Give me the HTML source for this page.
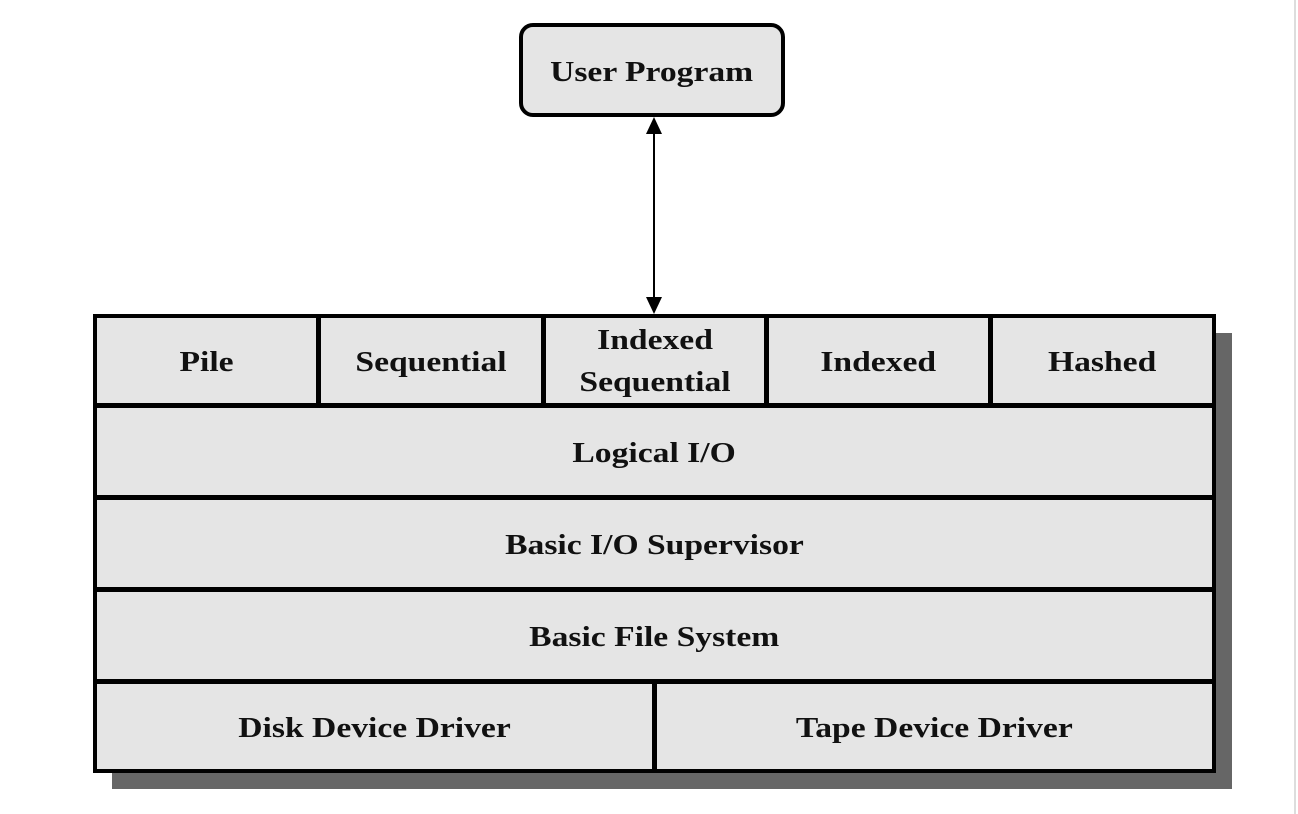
<!DOCTYPE html>
<html><head><style>
body{margin:0;width:1298px;height:814px;background:#fff;position:relative;overflow:hidden;font-family:"Liberation Serif",serif;font-weight:bold;color:#111}
.b{position:absolute;background:#e5e5e5;box-sizing:border-box;display:flex;align-items:center;justify-content:center;text-align:center;font-size:28px;line-height:1.5;padding-top:5px}
.b span{display:inline-block;transform:scaleX(1.2)}
</style></head><body>
<div style="position:absolute;left:1294px;top:0;width:2px;height:814px;background:#ddd"></div>
<div class="b" style="left:519px;top:23px;width:266px;height:94px;border:4px solid #000;border-radius:14px"><span>User Program</span></div>
<svg style="position:absolute;left:0;top:0" width="1298" height="814">
<rect x="112" y="333" width="1120" height="456" fill="#666"/>
<line x1="654" y1="130" x2="654" y2="300" stroke="#000" stroke-width="2"/>
<polygon points="654,117 646,134 662,134" fill="#000"/>
<polygon points="654,314 646,297 662,297" fill="#000"/>
</svg>
<div style="position:absolute;left:93px;top:314px;width:1123px;height:459px;background:#000"></div>
<div class="b" style="left:97px;top:318px;width:219px;height:85px"><span>Pile</span></div>
<div class="b" style="left:321px;top:318px;width:220px;height:85px"><span>Sequential</span></div>
<div class="b" style="left:546px;top:318px;width:218px;height:85px;padding-top:2px"><span>Indexed<br>Sequential</span></div>
<div class="b" style="left:769px;top:318px;width:219px;height:85px"><span>Indexed</span></div>
<div class="b" style="left:993px;top:318px;width:219px;height:85px"><span>Hashed</span></div>
<div class="b" style="left:97px;top:408px;width:1115px;height:87px"><span>Logical I/O</span></div>
<div class="b" style="left:97px;top:500px;width:1115px;height:87px"><span>Basic I/O Supervisor</span></div>
<div class="b" style="left:97px;top:592px;width:1115px;height:87px"><span>Basic File System</span></div>
<div class="b" style="left:97px;top:684px;width:555px;height:85px"><span>Disk Device Driver</span></div>
<div class="b" style="left:657px;top:684px;width:555px;height:85px"><span>Tape Device Driver</span></div>
</body></html>
